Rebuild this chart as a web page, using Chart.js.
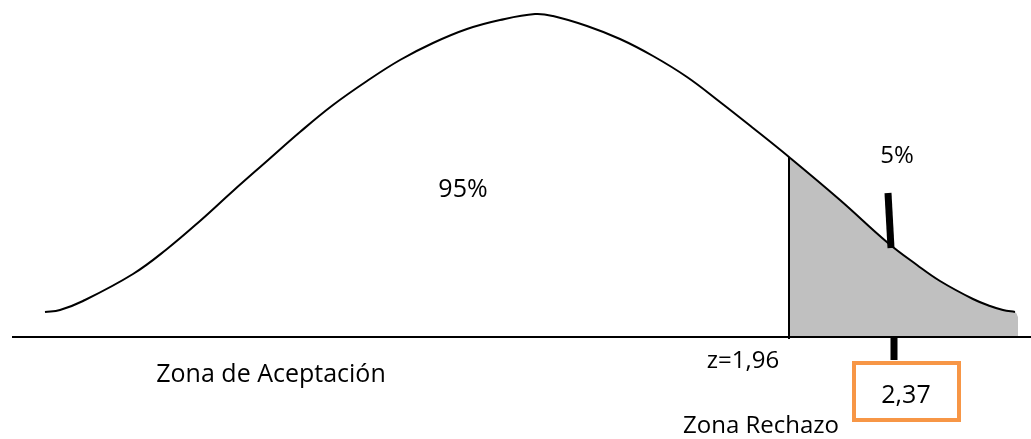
<!DOCTYPE html>
<html>
<head>
<meta charset="utf-8">
<script src="https://cdn.jsdelivr.net/npm/chart.js@4/dist/chart.umd.min.js"></script>
<style>
  html, body { margin: 0; padding: 0; background: #fff; }
  #wrap { width: 1031px; height: 439px; }
</style>
</head>
<body>
<div id="wrap"><canvas id="myChart" width="1031" height="439"></canvas></div>
<script>
// bell curve: horizontal position, height above the baseline
const curveX = [45, 60, 83, 133, 167, 200, 233, 267, 300, 333, 367, 400, 433, 467, 500, 535, 553, 587, 620, 653, 687, 720, 753, 789, 840, 888, 917, 940, 973, 990, 1003, 1015];
const curveY = [25, 27, 36, 63, 88, 116, 146, 176, 205, 232, 256, 277, 294, 308, 317, 323, 321, 311, 298, 281, 260, 235, 209, 180, 137, 94, 72, 56, 38, 31, 27, 25];

// rejection tail ends a little past the curve
const tailEndX = 1018;
const tailEndY = 20;

// baseline of the distribution
const baselineX = [12, 1031];

// critical value z=1,96 and observed value 2,37
const critX = 789;
const obsTopX = [888, 891];
const obsTopY = [144, 89];
const obsLowX = [894, 894];
const obsLowY = [1, -23];

const labels = ['95%', '5%', 'z=1,96', 'Zona de Aceptación', '2,37', 'Zona Rechazo'];

function pts(xs, ys) {
  return xs.map((x, i) => ({ x: x, y: ys[i] }));
}

const curve = pts(curveX, curveY);
const tail = curve.filter(p => p.x >= critX).concat([{ x: tailEndX, y: tailEndY }]);
const critTop = curveY[curveX.indexOf(critX)];

const textPlugin = {
  id: 'texts',
  afterDatasetsDraw(chart) {
    const c = chart.ctx;
    const xs = chart.scales.x;
    const ys = chart.scales.y;
    const at = (x, y) => [xs.getPixelForValue(x), ys.getPixelForValue(y)];

    // orange box round the observed value
    const [bx1, by1] = at(854, -26);
    const [bx2, by2] = at(959, -83);
    c.save();
    c.strokeStyle = '#f79646';
    c.lineWidth = 4;
    c.strokeRect(bx1, by1, bx2 - bx1, by2 - by1);

    c.fillStyle = '#000';
    c.textAlign = 'center';
    c.textBaseline = 'alphabetic';
    const place = [
      [463, 140, 25], [897, 174, 24], [743, -31, 24],
      [271, -45, 25], [906, -66, 25], [761, -96, 24]
    ];
    labels.forEach((t, i) => {
      const [x, y] = at(place[i][0], place[i][1]);
      c.font = place[i][2] + 'px "Open Sans"';
      c.fillText(t, x, y);
    });
    c.restore();
  }
};

const ctx = document.getElementById('myChart');
new Chart(ctx, {
  type: 'line',
  data: {
    datasets: [
      {
        data: tail,
        fill: 'origin',
        backgroundColor: '#c0c0c0',
        borderWidth: 0,
        borderColor: 'rgba(0,0,0,0)',
        pointRadius: 0,
        tension: 0.4,
        order: 5
      },
      {
        data: curve,
        borderColor: '#000',
        borderWidth: 2,
        pointRadius: 0,
        fill: false,
        tension: 0.4,
        order: 1
      },
      {
        data: pts(baselineX, [0, 0]),
        borderColor: '#000',
        borderWidth: 2,
        pointRadius: 0,
        order: 1
      },
      {
        data: [{ x: critX, y: -2 }, { x: critX, y: critTop }],
        borderColor: '#000',
        borderWidth: 2,
        pointRadius: 0,
        order: 1
      },
      {
        data: pts(obsTopX, obsTopY),
        borderColor: '#000',
        borderWidth: 7,
        pointRadius: 0,
        order: 1
      },
      {
        data: pts(obsLowX, obsLowY),
        borderColor: '#000',
        borderWidth: 7,
        pointRadius: 0,
        order: 1
      }
    ]
  },
  options: {
    responsive: false,
    animation: false,
    layout: { padding: 0 },
    scales: {
      x: { type: 'linear', min: 0, max: 1031, display: false },
      y: { type: 'linear', min: -102, max: 337, display: false }
    },
    plugins: {
      legend: { display: false },
      tooltip: { enabled: false }
    }
  },
  plugins: [textPlugin]
});
</script>
</body>
</html>
